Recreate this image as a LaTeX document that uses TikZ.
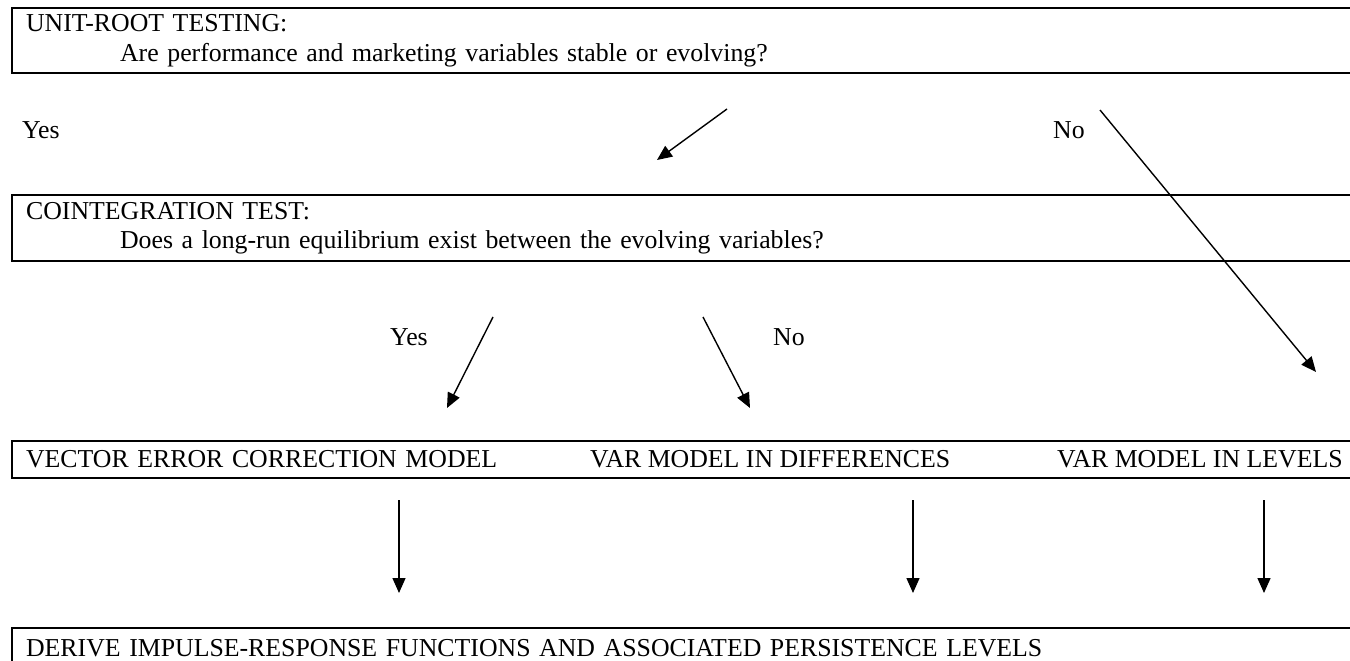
\documentclass[tikz,border=0pt]{standalone}
\usepackage{fontspec}
\setmainfont{Liberation Serif}
\usetikzlibrary{arrows.meta,positioning}

\begin{document}
\begin{tikzpicture}[x=1pt, y=-1pt, font=\fontsize{25.8}{29.7}\selectfont,
  box/.style={draw, line width=2.2pt, anchor=north west, align=left, text width=1322pt, inner xsep=14pt, inner ysep=5pt},
  arr/.style={-{Triangle[length=15pt,width=13pt]}, line width=1.4pt},
  lbl/.style={inner sep=0pt, anchor=base west}]
\useasboundingbox (0,0) rectangle (1350,661);
% stages
\node[box, minimum height=65pt] (unitroot) at (11,7) {UNIT-ROOT TESTING:\\\hspace*{94pt}Are performance and marketing variables stable or evolving?};
\node[box, minimum height=66pt] (coint) at (11,194) {COINTEGRATION TEST:\\\hspace*{94pt}Does a long-run equilibrium exist between the evolving variables?};
\node[box, minimum height=37pt] (vecm) at (11,440) {VECTOR ERROR CORRECTION MODEL};
\node[lbl] (vardiff) at (590,467) {VAR MODEL IN DIFFERENCES};
\node[lbl] (varlev) at (1057,467) {VAR MODEL IN LEVELS};
\node[box, inner ysep=11pt] (irf) at (11,627) {DERIVE IMPULSE-RESPONSE FUNCTIONS AND ASSOCIATED PERSISTENCE LEVELS};
% answers
\node[lbl] (yes1) at (22,139) {Yes};
\node[lbl] (no1) at (1053,139) {No};
\node[lbl] (yes2) at (390,345) {Yes};
\node[lbl] (no2) at (773,345) {No};
% arrows
\coordinate (a1) at (727,109);  \coordinate (b1) at (657,160);
\coordinate (a2) at (1100,110); \coordinate (b2) at (1316,372);
\coordinate (a3) at (493,317);  \coordinate (b3) at (447,408);
\coordinate (a4) at (703,317);  \coordinate (b4) at (750,408);
\draw[arr] (a1) -- (b1);
\draw[arr] (a2) -- (b2);
\draw[arr] (a3) -- (b3);
\draw[arr] (a4) -- (b4);
\foreach \x/\n in {399/vecm, 913/vardiff, 1264/varlev} {
  \coordinate (top-\n) at (\x,500);
  \coordinate (tip-\n) at (\x,593);
  \draw[arr] (top-\n) -- (tip-\n);
}
\end{tikzpicture}
\end{document}
